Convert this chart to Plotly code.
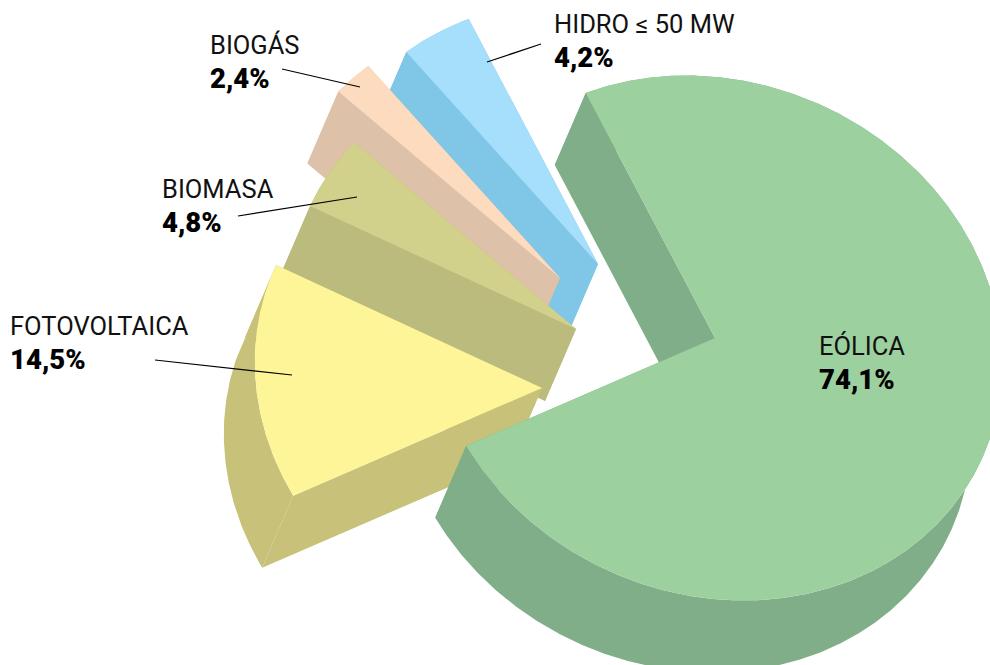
import numpy as np
import plotly.graph_objects as go

categories = ["EÓLICA", "FOTOVOLTAICA", "BIOMASA", "BIOGÁS", "HIDRO ≤ 50 MW"]
shares = [74.1, 14.5, 4.8, 2.4, 4.2]
top_colors = ["#9dd09f", "#fdf597", "#d1d18b", "#fddbbf", "#a6dffb"]
side_colors = ["#80ae88", "#c7c17a", "#bbbb7e", "#ddc1a9", "#80c7e7"]

# pie geometry (screen pixels)
apex = [(715, 338), (542, 388), (576, 329), (560, 278), (598, 264)]
depth = (-31, 72)
major, minor, axis_deg = 293, 256, -66
start_deg = -24
draw_order = [4, 3, 2, 1, 0]

# labels: x, y of the name line, leader line start and end
label_pos = [(817, 346), (8, 326), (160, 189), (208, 45), (552, 24)]
leaders = [None, ((155, 360), (292, 375)), ((238, 216), (357, 197)),
           ((282, 69), (360, 87)), ((541, 44), (487, 62))]

a = np.radians(axis_deg)
ux = np.array([np.sin(a), -np.cos(a)])
vx = np.array([np.cos(a), np.sin(a)])


def rim(t_deg, centre):
    t = np.radians(t_deg)
    unit = np.stack([np.sin(t), -np.cos(t)], axis=1)
    p = unit @ ux
    q = unit @ vx
    pts = np.outer(p * major, ux) + np.outer(q * minor, vx)
    return pts + np.array(centre)


fig = go.Figure()


def poly(pts, color):
    pts = np.asarray(pts)
    fig.add_trace(go.Scatter(x=np.append(pts[:, 0], pts[0, 0]), y=np.append(pts[:, 1], pts[0, 1]),
                             mode="lines", fill="toself", fillcolor=color,
                             line=dict(width=0, color=color), hoverinfo="skip", showlegend=False))


edges = np.cumsum([0] + list(shares)) / sum(shares) * 360 + start_deg
d = np.array(depth)
for i in draw_order:
    ts = np.linspace(edges[i], edges[i + 1], max(8, int(shares[i] * 8)))
    arc = rim(ts, apex[i])
    c = np.array(apex[i])
    # cut faces
    poly([c, arc[0], arc[0] + d, c + d], side_colors[i])
    poly([c, arc[-1], arc[-1] + d, c + d], side_colors[i])
    # outer wall
    poly(np.vstack([arc, (arc + d)[::-1]]), side_colors[i])
    # top
    poly(np.vstack([[c], arc]), top_colors[i])

for seg in leaders:
    if seg:
        fig.add_trace(go.Scatter(x=[seg[0][0], seg[1][0]], y=[seg[0][1], seg[1][1]], mode="lines",
                                 line=dict(color="#000000", width=1.2), hoverinfo="skip", showlegend=False))

FONT = "Roboto, sans-serif"
for name, v, (x, y) in zip(categories, shares, label_pos):
    fig.add_annotation(x=x, y=y, text=name, showarrow=False, xanchor="left", yanchor="middle",
                       xref="x", yref="y", font=dict(family=FONT, size=25.5, color="#111111"))
    fig.add_annotation(x=x, y=y + 33, text=f"{v:.1f}".replace(".", ",") + "%", showarrow=False,
                       xanchor="left", yanchor="middle", xref="x", yref="y",
                       font=dict(family=FONT, size=27.5, weight=900, color="#000000"))

fig.update_layout(width=990, height=665, margin=dict(l=0, r=0, t=0, b=0),
                  paper_bgcolor="white", plot_bgcolor="white", showlegend=False,
                  xaxis=dict(range=[0, 990], visible=False, fixedrange=True),
                  yaxis=dict(range=[665, 0], visible=False, fixedrange=True))
fig.write_html("out.html", config={"displayModeBar": False},
               post_script="document.body.style.margin='0';")
